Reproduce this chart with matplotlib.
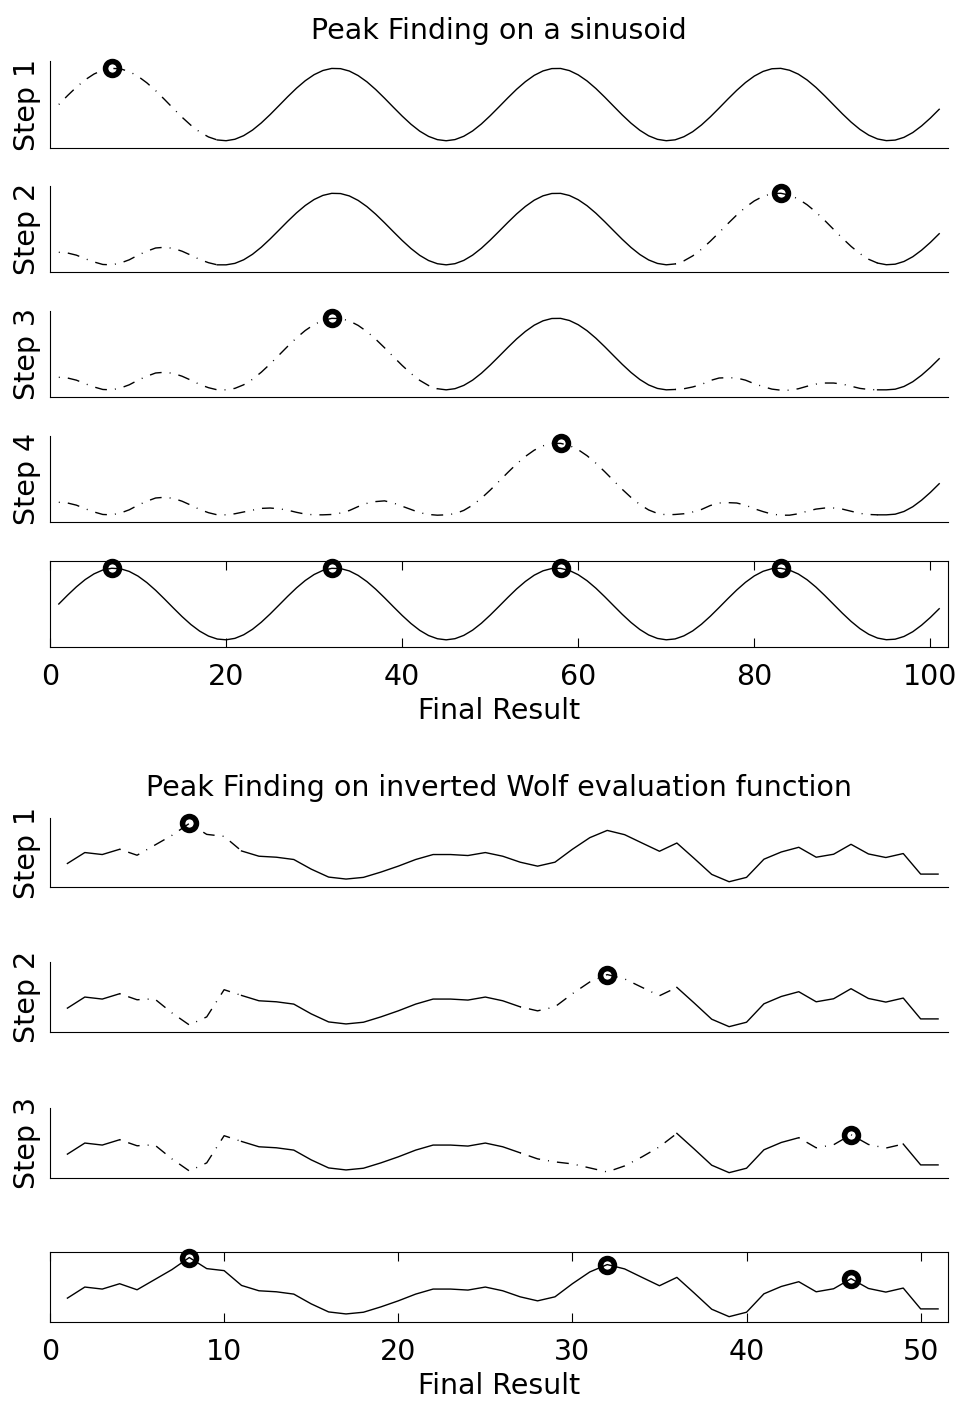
import matplotlib.pyplot as plt

# sinusoid samples, index 1..101
sin_y = [0.000, 0.247, 0.479, 0.682, 0.841, 0.949, 0.997, 0.984, 0.909, 0.778,
         0.598, 0.382, 0.141, -0.108, -0.351, -0.572, -0.757, -0.895, -0.978, -0.999,
         -0.959, -0.859, -0.706, -0.508, -0.279, -0.033, 0.215, 0.450, 0.657, 0.823,
         0.938, 0.995, 0.989, 0.923, 0.798, 0.625, 0.412, 0.174, -0.075, -0.319,
         -0.544, -0.736, -0.880, -0.969, -1.000, -0.968, -0.876, -0.730, -0.537, -0.310,
         -0.066, 0.182, 0.420, 0.630, 0.804, 0.926, 0.991, 0.994, 0.935, 0.817,
         0.650, 0.442, 0.206, -0.042, -0.288, -0.516, -0.712, -0.864, -0.961, -0.999,
         -0.975, -0.889, -0.751, -0.564, -0.342, -0.099, 0.150, 0.390, 0.606, 0.784,
         0.913, 0.986, 0.997, 0.945, 0.837, 0.676, 0.472, 0.238, -0.009, -0.256,
         -0.487, -0.688, -0.846, -0.951, -0.997, -0.982, -0.906, -0.774, -0.591, -0.374,
         -0.132]
sin_peaks = [7, 32, 58, 83]
sin_step_peak = [7, 83, 32, 58]
# suppressed values after a peak is found
supp_7 = [-0.65, -0.67, -0.73, -0.83, -0.92, -0.99, -1.00, -0.95, -0.86, -0.73,
          -0.62, -0.53, -0.51, -0.54, -0.62, -0.73, -0.85, -0.94, -1.00, -1.00]   # i 1..20
supp_32 = [-1.00, -0.97, -0.92, -0.87, -0.82, -0.81, -0.83, -0.87, -0.93, -0.98,
           -1.00, -1.00, -0.99, -0.95, -0.88, -0.77, -0.68, -0.63, -0.61, -0.67,
           -0.76, -0.85, -0.94, -0.99, -1.01, -1.00]                              # i 20..45
supp_83 = [-1.00, -0.99, -0.97, -0.92, -0.85, -0.74, -0.67, -0.66, -0.67, -0.73,
           -0.83, -0.91, -0.98, -1.01, -1.01, -0.97, -0.90, -0.84, -0.81, -0.81,
           -0.84, -0.90, -0.96, -0.99, -1.00, -1.00]                              # i 70..95
sin_dashed = [[(1, 19)], [(1, 19), (71, 94)], [(1, 44), (71, 94)], [(1, 94)]]

# inverted Wolf evaluation function, index 1..51
wolf_y = [23.7, 34.7, 32.7, 38.0, 32.0, 42.0, 52.0, 64.0, 53.0, 51.0,
          36.3, 31.0, 30.0, 27.7, 18.0, 10.0, 8.0, 9.7, 15.0, 21.0,
          27.7, 32.7, 32.7, 31.7, 34.7, 31.0, 25.0, 21.0, 25.0, 38.0,
          49.7, 57.0, 52.7, 44.3, 36.0, 44.3, 28.7, 12.7, 5.3, 9.7,
          28.0, 35.3, 40.0, 30.0, 33.0, 43.0, 33.3, 29.7, 33.7, 13.0,
          13.0]
wolf_peaks = [8, 32, 46]
supp_w8 = [32, 33, 19, 7, 15, 42]                  # i 5..10
supp_w32 = [19, 16, 14, 10, 6, 12, 21, 31]         # i 28..35
wolf_dashed = [[(4, 11)], [(4, 11), (27, 36)], [(4, 11), (27, 36), (43, 49)]]


def replaced(y, start, vals):
    out = list(y)
    out[start - 1:start - 1 + len(vals)] = vals
    return out


sin_steps = [sin_y]
sin_steps.append(replaced(sin_y, 1, supp_7))
sin_steps.append(replaced(sin_steps[1], 70, supp_83))
sin_steps.append(replaced(sin_steps[2], 20, supp_32))

wolf_steps = [wolf_y]
wolf_steps.append(replaced(wolf_y, 5, supp_w8))
wolf_steps.append(replaced(wolf_steps[1], 28, supp_w32))

FS = 20.5
LW = 1.0
DD = (14.4, (8.6, 5.8, 0.7, 5.8))
MK = dict(marker='o', ms=10, mew=4, mfc='none', mec='black', ls='none',
          zorder=5, clip_on=False)

plt.rcParams['font.family'] = 'DejaVu Sans'
fig = plt.figure(figsize=(9.6, 14.01), dpi=100)
W, H = 960.0, 1401.0


def new_ax(top, bot):
    return fig.add_axes([50 / W, 1 - bot / H, 898 / W, (bot - top) / H])


def draw_curve(ax, y, dashed):
    x = list(range(1, len(y) + 1))
    pos = 1
    for a, b in dashed:
        if a > pos:
            ax.plot(x[pos - 1:a], y[pos - 1:a], color='black', lw=LW)
        ax.plot(x[a - 1:b], y[a - 1:b], color='black', lw=LW, ls=DD)
        pos = b
    if pos < len(y):
        ax.plot(x[pos - 1:], y[pos - 1:], color='black', lw=LW)


def step_style(ax, xmax, ylim, label):
    ax.set_xlim(0, xmax)
    ax.set_ylim(*ylim)
    ax.spines['top'].set_visible(False)
    ax.spines['right'].set_visible(False)
    ax.set_xticks([])
    ax.set_yticks([])
    ax.set_ylabel(label, fontsize=FS, labelpad=6.5)


def final_style(ax, xmax, ylim, ticks):
    ax.set_xlim(0, xmax)
    ax.set_ylim(*ylim)
    ax.set_yticks([])
    ax.set_xticks(ticks)
    ax.tick_params(axis='x', direction='in', top=True, length=6.3, width=0.8,
                   labelsize=FS, pad=11.5)
    ax.set_xlabel('Final Result', fontsize=FS, labelpad=4)


# ---- sinusoid section ----
top_boxes = [(61, 148), (186, 272), (311, 397), (436, 522), (561, 647)]
for k in range(4):
    ax = new_ax(*top_boxes[k])
    y = sin_steps[k]
    draw_curve(ax, y, sin_dashed[k])
    p = sin_step_peak[k]
    ax.plot([p], [y[p - 1]], **MK)
    step_style(ax, 102, (-1.2, 1.2), 'Step %d' % (k + 1))
    if k == 0:
        ax.set_title('Peak Finding on a sinusoid', fontsize=FS, pad=15.5)

ax = new_ax(*top_boxes[4])
ax.plot(range(1, len(sin_y) + 1), sin_y, color='black', lw=LW)
ax.plot(sin_peaks, [sin_y[p - 1] for p in sin_peaks], **MK)
final_style(ax, 102, (-1.2, 1.2), [0, 20, 40, 60, 80, 100])

# ---- Wolf section ----
bot_boxes = [(818, 887), (962, 1032), (1108, 1178), (1252, 1322)]
for k in range(3):
    ax = new_ax(*bot_boxes[k])
    y = wolf_steps[k]
    draw_curve(ax, y, wolf_dashed[k])
    p = wolf_peaks[k]
    ax.plot([p], [y[p - 1]], **MK)
    step_style(ax, 51.57, (0, 69.5), 'Step %d' % (k + 1))
    if k == 0:
        ax.set_title('Peak Finding on inverted Wolf evaluation function',
                     fontsize=FS, pad=15.5)

ax = new_ax(*bot_boxes[3])
ax.plot(range(1, len(wolf_y) + 1), wolf_y, color='black', lw=LW)
ax.plot(wolf_peaks, [wolf_y[p - 1] for p in wolf_peaks], **MK)
final_style(ax, 51.57, (0, 69.5), [0, 10, 20, 30, 40, 50])

fig.savefig('out.png', dpi=100, facecolor='white')
